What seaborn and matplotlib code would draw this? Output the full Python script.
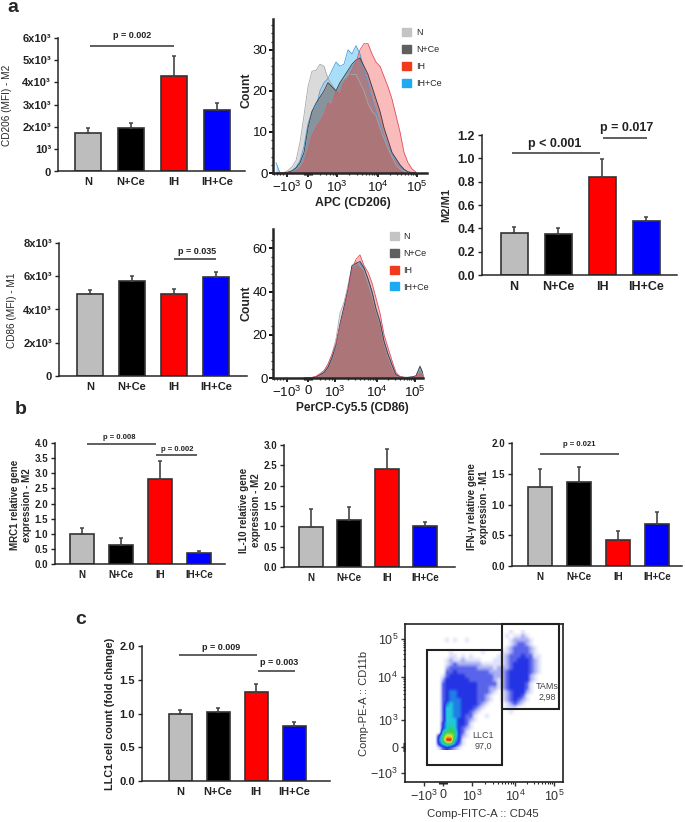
import matplotlib
matplotlib.use('Agg')
import matplotlib.pyplot as plt
from matplotlib.colors import LinearSegmentedColormap
from matplotlib.patches import Patch, Rectangle
import seaborn as sns
import numpy as np

W, H = 685, 822

GROUPS = ['N', 'N+Ce', 'IH', 'IH+Ce']
BAR_COLORS = ['#bdbdbd', '#000000', '#ff0000', '#0000ff']

# bar heights and the top of the error whisker
cd206_mean = [1.75, 1.95, 4.3, 2.78]
cd206_tip = [1.97, 2.17, 5.2, 3.1]
cd86_mean = [4.95, 5.7, 4.95, 5.95]
cd86_tip = [5.15, 6.0, 5.25, 6.25]
ratio_mean = [0.36, 0.35, 0.84, 0.46]
ratio_tip = [0.41, 0.40, 0.99, 0.50]
mrc1_mean = [0.98, 0.63, 2.8, 0.35]
mrc1_tip = [1.2, 0.85, 3.42, 0.42]
il10_mean = [0.98, 1.16, 2.4, 1.01]
il10_tip = [1.42, 1.48, 2.9, 1.1]
ifn_mean = [1.28, 1.36, 0.43, 0.68]
ifn_tip = [1.58, 1.61, 0.57, 0.88]
llc1_mean = [1.0, 1.02, 1.32, 0.81]
llc1_tip = [1.05, 1.08, 1.44, 0.87]

# histogram traces, channel position vs count
apc_channel = list(range(-32, 112, 4))
apc_n = [0, 0, 0.1, 0.6, 1.5, 3, 7.5, 14, 21, 24.8, 25, 26.5, 26, 23, 21.5, 20, 22, 23, 24, 24, 24, 22, 20, 17, 15,
         14, 11, 8.5, 6, 4, 2, 1, 0.4, 0.1, 0, 0]
apc_nce = [0, 0, 0, 0.2, 0.5, 1.2, 2.5, 5, 11, 15, 17, 18.5, 20, 22, 21, 20, 22, 23.5, 25, 26.5, 27.5, 28, 26, 24, 21,
           18, 15, 11, 8, 5, 3.5, 2, 0.9, 0.3, 0.1, 0]
apc_ih = [0, 0, 0, 0, 0.1, 0.4, 1, 2.5, 5.5, 9, 11, 12.5, 14, 17, 16.5, 20, 19, 22, 23, 25, 27, 30, 31.5, 31.5, 29,
          27, 26, 23.5, 21, 18, 14, 10, 5, 2.5, 1, 0.2]
apc_ihce = [2.5, 0, 0, 0.2, 0.6, 1.4, 3, 6.5, 12, 15, 16, 20, 22, 23, 25, 27, 26, 26.5, 30, 29, 31, 29, 25, 22, 18,
            15, 12, 9, 6.5, 4.5, 3, 1.8, 0.8, 0.2, 0, 0]

percp_channel = list(range(-4, 120, 4))
percp_n = [0, 0, 0.2, 0.6, 1.6, 3, 6, 11, 18, 30, 35, 43, 52, 54, 52, 50, 44, 38, 31, 25, 16, 10, 5, 1.2, 0.5, 0.3,
           0.3, 0.4, 0.8, 4.5, 0.8]
percp_nce = [0, 0, 0.2, 0.5, 1.5, 2.5, 5, 9.5, 15.5, 25, 33, 41, 52, 53, 54, 51, 46, 40, 32, 26, 17, 11, 6, 1.5, 0.6,
             0.3, 0.3, 0.5, 1, 5.5, 1]
percp_ih = [0, 0, 0.3, 0.8, 2, 3.5, 6.5, 11, 16, 24, 31, 40, 50, 55, 57, 52, 49, 44, 37, 30, 20, 14, 8, 2.5, 0.7, 0.3,
            0.2, 0.3, 0.5, 2, 0.4]
percp_ihce = [0, 0, 0.2, 0.5, 1.4, 2.4, 5, 9, 15, 24, 32, 40, 51, 52, 53, 51, 45, 40, 32, 26, 17, 11, 6, 1.5, 0.6,
              0.3, 0.3, 0.5, 1, 5, 0.9]

# flow plot density, coarse levels read cell by cell (0 empty .. 9 hottest)
flow_density = [
    '000000000000000000000100100000',
    '000000000000000000001011210000',
    '000001010010000000000122221000',
    '000000000000000000000123321000',
    '000000000000000000001233332100',
    '000000100000001000011233332100',
    '000000110101000000112333433110',
    '000001211211110001112334443210',
    '000001232222221111112344443210',
    '000002333333322221222344443210',
    '000003343333333322223444443210',
    '000013444433333332223444442100',
    '000024444443333332123444442100',
    '000034444444433333123444431000',
    '000034444444433322123444431000',
    '000034554444433321012344421000',
    '000034554444433210012344310000',
    '000034555444433210012343210000',
    '000035655444432100001232100000',
    '000036655444321000001110000000',
    '000036655443210000000100000000',
    '000036655433100100000000000000',
    '000036664432100000000000000000',
    '000046664431000000000000000000',
    '000046764321000000000000000000',
    '000067774310000000000000000000',
    '000478874210000000000000000000',
    '000579964100000000000000000000',
    '000467753100000000000000000000',
    '000134321000000000000000000000',
]
flow_colors = ['#ffffff', '#e0e2fa', '#a8aef3', '#5a64ea', '#2434e4', '#1f7fe8', '#22c8d8', '#2fd060', '#f2e020',
               '#e01818']

sns.set_theme(style='ticks')
plt.rcParams['font.family'] = ['Liberation Sans', 'DejaVu Sans']
plt.rcParams['mathtext.fontset'] = 'custom'
plt.rcParams['mathtext.rm'] = 'Liberation Sans'
plt.rcParams['mathtext.default'] = 'regular'
plt.rcParams['axes.linewidth'] = 1.1

fig = plt.figure(figsize=(W / 100, H / 100), dpi=100)


def px_axes(left, top, right, bottom):
    return fig.add_axes([left / W, 1 - bottom / H, (right - left) / W, (bottom - top) / H])


def px_text(x, y, s, **kw):
    kw.setdefault('ha', 'center')
    kw.setdefault('va', 'center')
    fig.text(x / W, 1 - y / H, s, **kw)


def bar_panel(rect, centers, bar_px, mean, tip, ymax, yticks, ylabels, fs, tick_len=3):
    left, top, right, bottom = rect
    ax = px_axes(left, top, right, bottom)
    step = (centers[1] - centers[0])
    sns.barplot(x=GROUPS, y=mean, hue=GROUPS, palette=BAR_COLORS, legend=False, width=bar_px / step,
                edgecolor='#333333', linewidth=1.2, saturation=1, ax=ax)
    up = np.array(tip) - np.array(mean)
    ax.errorbar(np.arange(4), mean, yerr=[np.zeros(4), up], fmt='none', ecolor='#444444', elinewidth=1.2,
                capsize=1.5, capthick=1.1)
    ax.set_xlim((left - centers[0]) / step, (right - centers[0]) / step)
    ax.set_ylim(0, ymax)
    ax.set_yticks(yticks)
    ax.set_yticklabels(ylabels, fontsize=fs, fontweight='bold')
    ax.tick_params(axis='y', length=tick_len, width=1, pad=2, colors='#222222')
    ax.tick_params(axis='x', length=0, pad=4, labelsize=fs, colors='#222222')
    for lab in ax.get_xticklabels():
        lab.set_fontweight('bold')
    sns.despine(ax=ax)
    ax.patch.set_alpha(0)
    return ax


def sig(ax, x0, x1, y, ty, tx, s, fs, lw=1.1):
    ax.plot([x0, x1], [y, y], color='#333333', lw=lw, clip_on=False, solid_capstyle='butt')
    ax.text(tx, ty, s, ha='center', va='center', fontsize=fs, fontweight='bold', color='#222222')


def hist_panel(rect, channel, n, nce, ih, ihce, ymax, yticks, yminor, xmaj, xmin, xlim, legend_xy):
    ax = px_axes(*rect)
    traces = [(ihce, '#1eaaf0', '#4a9be0', 0.38), (n, '#bdbdbd', '#a8a8a8', 0.55), (nce, '#5f5f5f', '#3a3a48', 0.5),
              (ih, '#f0403c', '#e25060', 0.35)]
    for vals, fill, edge, alpha in traces:
        ax.fill_between(channel, vals, color=fill, alpha=alpha, lw=0)
        sns.lineplot(x=channel, y=vals, color=edge, lw=0.6, ax=ax, legend=False)
    ax.set_xlim(*xlim)
    ax.set_ylim(0, ymax)
    ax.set_yticks(yticks)
    ax.set_yticks(yminor, minor=True)
    ax.set_xticks(xmaj)
    ax.set_xticks(xmin, minor=True)
    ax.set_xticklabels(['$-10^{3}$', '0', '$10^{3}$', '$10^{4}$', '$10^{5}$'], fontsize=9.5)
    ax.tick_params(axis='y', labelsize=9.5, length=3, width=1.4, pad=1, colors='#111111')
    ax.tick_params(axis='y', which='minor', length=1.5, width=0.9)
    ax.tick_params(axis='x', length=3, width=1.3, pad=2, colors='#111111')
    ax.tick_params(axis='x', which='minor', length=1.5, width=0.9)
    ax.set_xlabel('')
    ax.set_ylabel('')
    sns.despine(ax=ax)
    ax.spines['left'].set_linewidth(1.8)
    ax.spines['bottom'].set_linewidth(1.8)
    handles = [Patch(color=c, label=g) for c, g in zip(['#c4c4c4', '#5f5f5f', '#f03a1c', '#1eaaf0'], GROUPS)]
    ax.legend(handles=handles, loc='upper left', bbox_to_anchor=legend_xy, frameon=False, fontsize=6.5,
              handlelength=1, handleheight=1, handletextpad=0.5, labelspacing=0.85, borderpad=0, borderaxespad=0)
    ax.patch.set_alpha(0)
    return ax


def log_minor(start, span):
    return [start + span * np.log10(k) for k in range(2, 10)]


# panel a, bars
ax = bar_panel((58, 38, 245, 171.5), [88, 131, 173, 215], 26, cd206_mean, cd206_tip, 6, range(7),
               ['0', '10³', '2x10³', '3x10³', '4x10³', '5x10³', '6x10³'], 8)
sig(ax, 0.05, 2.0, 5.65, 6.12, 1.03, 'p = 0.002', 6.5)
px_text(7, 105, 'CD206 (MFI) - M2', rotation=90, fontsize=7.2)

ax = bar_panel((59, 243, 247, 376), [90, 132, 174, 216], 26, cd86_mean, cd86_tip, 8, [0, 2, 4, 6, 8],
               ['0', '2x10³', '4x10³', '6x10³', '8x10³'], 8)
sig(ax, 2.0, 3.0, 7.02, 7.46, 2.55, 'p = 0.035', 6.5)
px_text(12, 310, 'CD86 (MFI) - M1', rotation=90, fontsize=7.2)

ax = bar_panel((482, 135, 677, 275), [514, 558, 602, 646], 27, ratio_mean, ratio_tip, 1.2,
               [0, 0.2, 0.4, 0.6, 0.8, 1.0, 1.2], ['0.0', '0.2', '0.4', '0.6', '0.8', '1.0', '1.2'], 9)
sig(ax, -0.05, 1.95, 1.048, 1.12, 0.93, 'p < 0.001', 9)
sig(ax, 2.02, 3.02, 1.177, 1.26, 2.55, 'p = 0.017', 9)
px_text(446, 205, 'M2/M1', rotation=90, fontsize=8, fontweight='bold')

# panel a, histograms
hist_panel((273, 19, 427, 173), apc_channel, apc_n, apc_nce, apc_ih, apc_ihce, 37.5, [0, 10, 20, 30],
           list(range(2, 38, 2)), [-21, 0, 29, 70, 109],
           list(range(-34, -21, 3)) + list(range(-4, 5, 1)) + [12, 18, 22, 25, 27] + log_minor(29, 41)
           + log_minor(70, 39),
           (-35, 119), (0.84, 0.94))
px_text(246, 90, 'Count', rotation=90, fontsize=8.8, fontweight='bold')
px_text(353, 203, 'APC (CD206)', fontsize=8.8, fontweight='bold', color='#222222')

hist_panel((273, 229, 423, 378), percp_channel, percp_n, percp_nce, percp_ih, percp_ihce, 69, [0, 20, 40, 60],
           list(range(4, 68, 4)), [-21, 0, 27, 69, 107],
           list(range(-34, -21, 3)) + list(range(-4, 5, 1)) + [12, 17, 21, 24, 26] + log_minor(27, 42)
           + log_minor(69, 38),
           (-35, 115), (0.78, 0.98))
px_text(246, 303, 'Count', rotation=90, fontsize=8.8, fontweight='bold')
px_text(352, 408, 'PerCP-Cy5.5 (CD86)', fontsize=8.6, fontweight='bold', color='#222222')

# panel b
half_ticks = ['0.0', '0.5', '1.0', '1.5', '2.0', '2.5', '3.0', '3.5', '4.0']
ax = bar_panel((55, 443, 225, 564), [82, 121, 160, 198], 24, mrc1_mean, mrc1_tip, 4, np.arange(0, 4.5, 0.5),
               half_ticks, 7)
sig(ax, 0.12, 1.9, 3.97, 4.17, 0.95, 'p = 0.008', 5.5)
sig(ax, 1.9, 2.95, 3.6, 3.8, 2.45, 'p = 0.002', 5.5)
px_text(21, 505, 'MRC1 relative gene\nexpression - M2', rotation=90, fontsize=7, fontweight='bold', linespacing=1.35)

ax = bar_panel((284, 445, 455, 567), [311, 349, 388, 427], 24, il10_mean, il10_tip, 3, np.arange(0, 3.5, 0.5),
               half_ticks[:7], 7)
px_text(250, 510, 'IL-10 relative gene\nexpression - M2', rotation=90, fontsize=7, fontweight='bold', linespacing=1.35)

ax = bar_panel((512, 443, 682, 566), [540, 579, 617, 656], 24, ifn_mean, ifn_tip, 2, np.arange(0, 2.5, 0.5),
               half_ticks[:5], 7)
sig(ax, 0.0, 2.03, 1.826, 1.98, 1.0, 'p = 0.021', 5.5)
px_text(478, 507, 'IFN-γ relative gene\nexpression - M1', rotation=90, fontsize=7, fontweight='bold', linespacing=1.35)

# panel c, bars
ax = bar_panel((142, 646, 330, 781), [180, 218, 255, 293], 23, llc1_mean, llc1_tip, 2, np.arange(0, 2.5, 0.5),
               half_ticks[:5], 8)
sig(ax, -0.03, 2.03, 1.87, 1.98, 1.07, 'p = 0.009', 6.5)
sig(ax, 2.05, 3.02, 1.63, 1.75, 2.6, 'p = 0.003', 6.5)
px_text(110, 714, 'LLC1 cell count (fold change)', rotation=90, fontsize=7.8, fontweight='bold', color='#222222')

# panel c, flow plot: axis units are channels, 0 sits on the 0 tick
ax = px_axes(405, 624, 563, 782)
density = np.array([[int(c) for c in row.ljust(30, '0')[:30]] for row in flow_density])
flow_cmap = LinearSegmentedColormap.from_list('flow', flow_colors)
ax.imshow(density, cmap=flow_cmap, vmin=0, vmax=9, extent=(-18, 102, -3, 117), interpolation='bilinear',
          aspect='auto', origin='upper')
ax.set_xlim(-38, 120)
ax.set_ylim(-35, 123)
ax.set_xticks([-19, 0, 29, 72, 111])
ax.set_xticklabels(['$-10^{3}$', '0', '$10^{3}$', '$10^{4}$', '$10^{5}$'], fontsize=9)
ax.set_yticks([-26, 0, 27, 70, 108])
ax.set_yticklabels(['$-10^{3}$', '0', '$10^{3}$', '$10^{4}$', '$10^{5}$'], fontsize=9)
ax.set_xticks(list(range(-4, 5)) + log_minor(29, 43) + log_minor(72, 39), minor=True)
ax.set_yticks(list(range(-4, 5)) + log_minor(27, 43) + log_minor(70, 38), minor=True)
ax.tick_params(axis='both', length=3, width=1, colors='#333333')
ax.tick_params(axis='x', pad=2)
ax.tick_params(axis='y', pad=2)
ax.tick_params(axis='both', which='minor', length=1.5, width=0.8)
for side in ax.spines.values():
    side.set_linewidth(1.2)
    side.set_color('#222222')
ax.add_patch(Rectangle((-16, -18), 75, 115, fill=False, ec='#222222', lw=1.5))
ax.add_patch(Rectangle((59, 38), 57, 85, fill=False, ec='#222222', lw=1.5, clip_on=False))
ax.text(40, 6, 'LLC1\n97,0', ha='center', va='center', fontsize=6.5, color='#444444', linespacing=1.3)
ax.text(104, 55, 'TAMs\n2,98', ha='center', va='center', fontsize=6.5, color='#444444', linespacing=1.3)
px_text(483, 814, 'Comp-FITC-A :: CD45', fontsize=8.2, color='#333333')
px_text(364, 703, 'Comp-PE-A :: CD11b', rotation=90, fontsize=8, color='#333333')

# panel letters
px_text(13, 12, 'a', fontsize=14, fontweight='bold', va='baseline')
px_text(21, 414, 'b', fontsize=14, fontweight='bold', va='baseline')
px_text(81, 624, 'c', fontsize=14, fontweight='bold', va='baseline')

fig.savefig('out.png', dpi=100)
